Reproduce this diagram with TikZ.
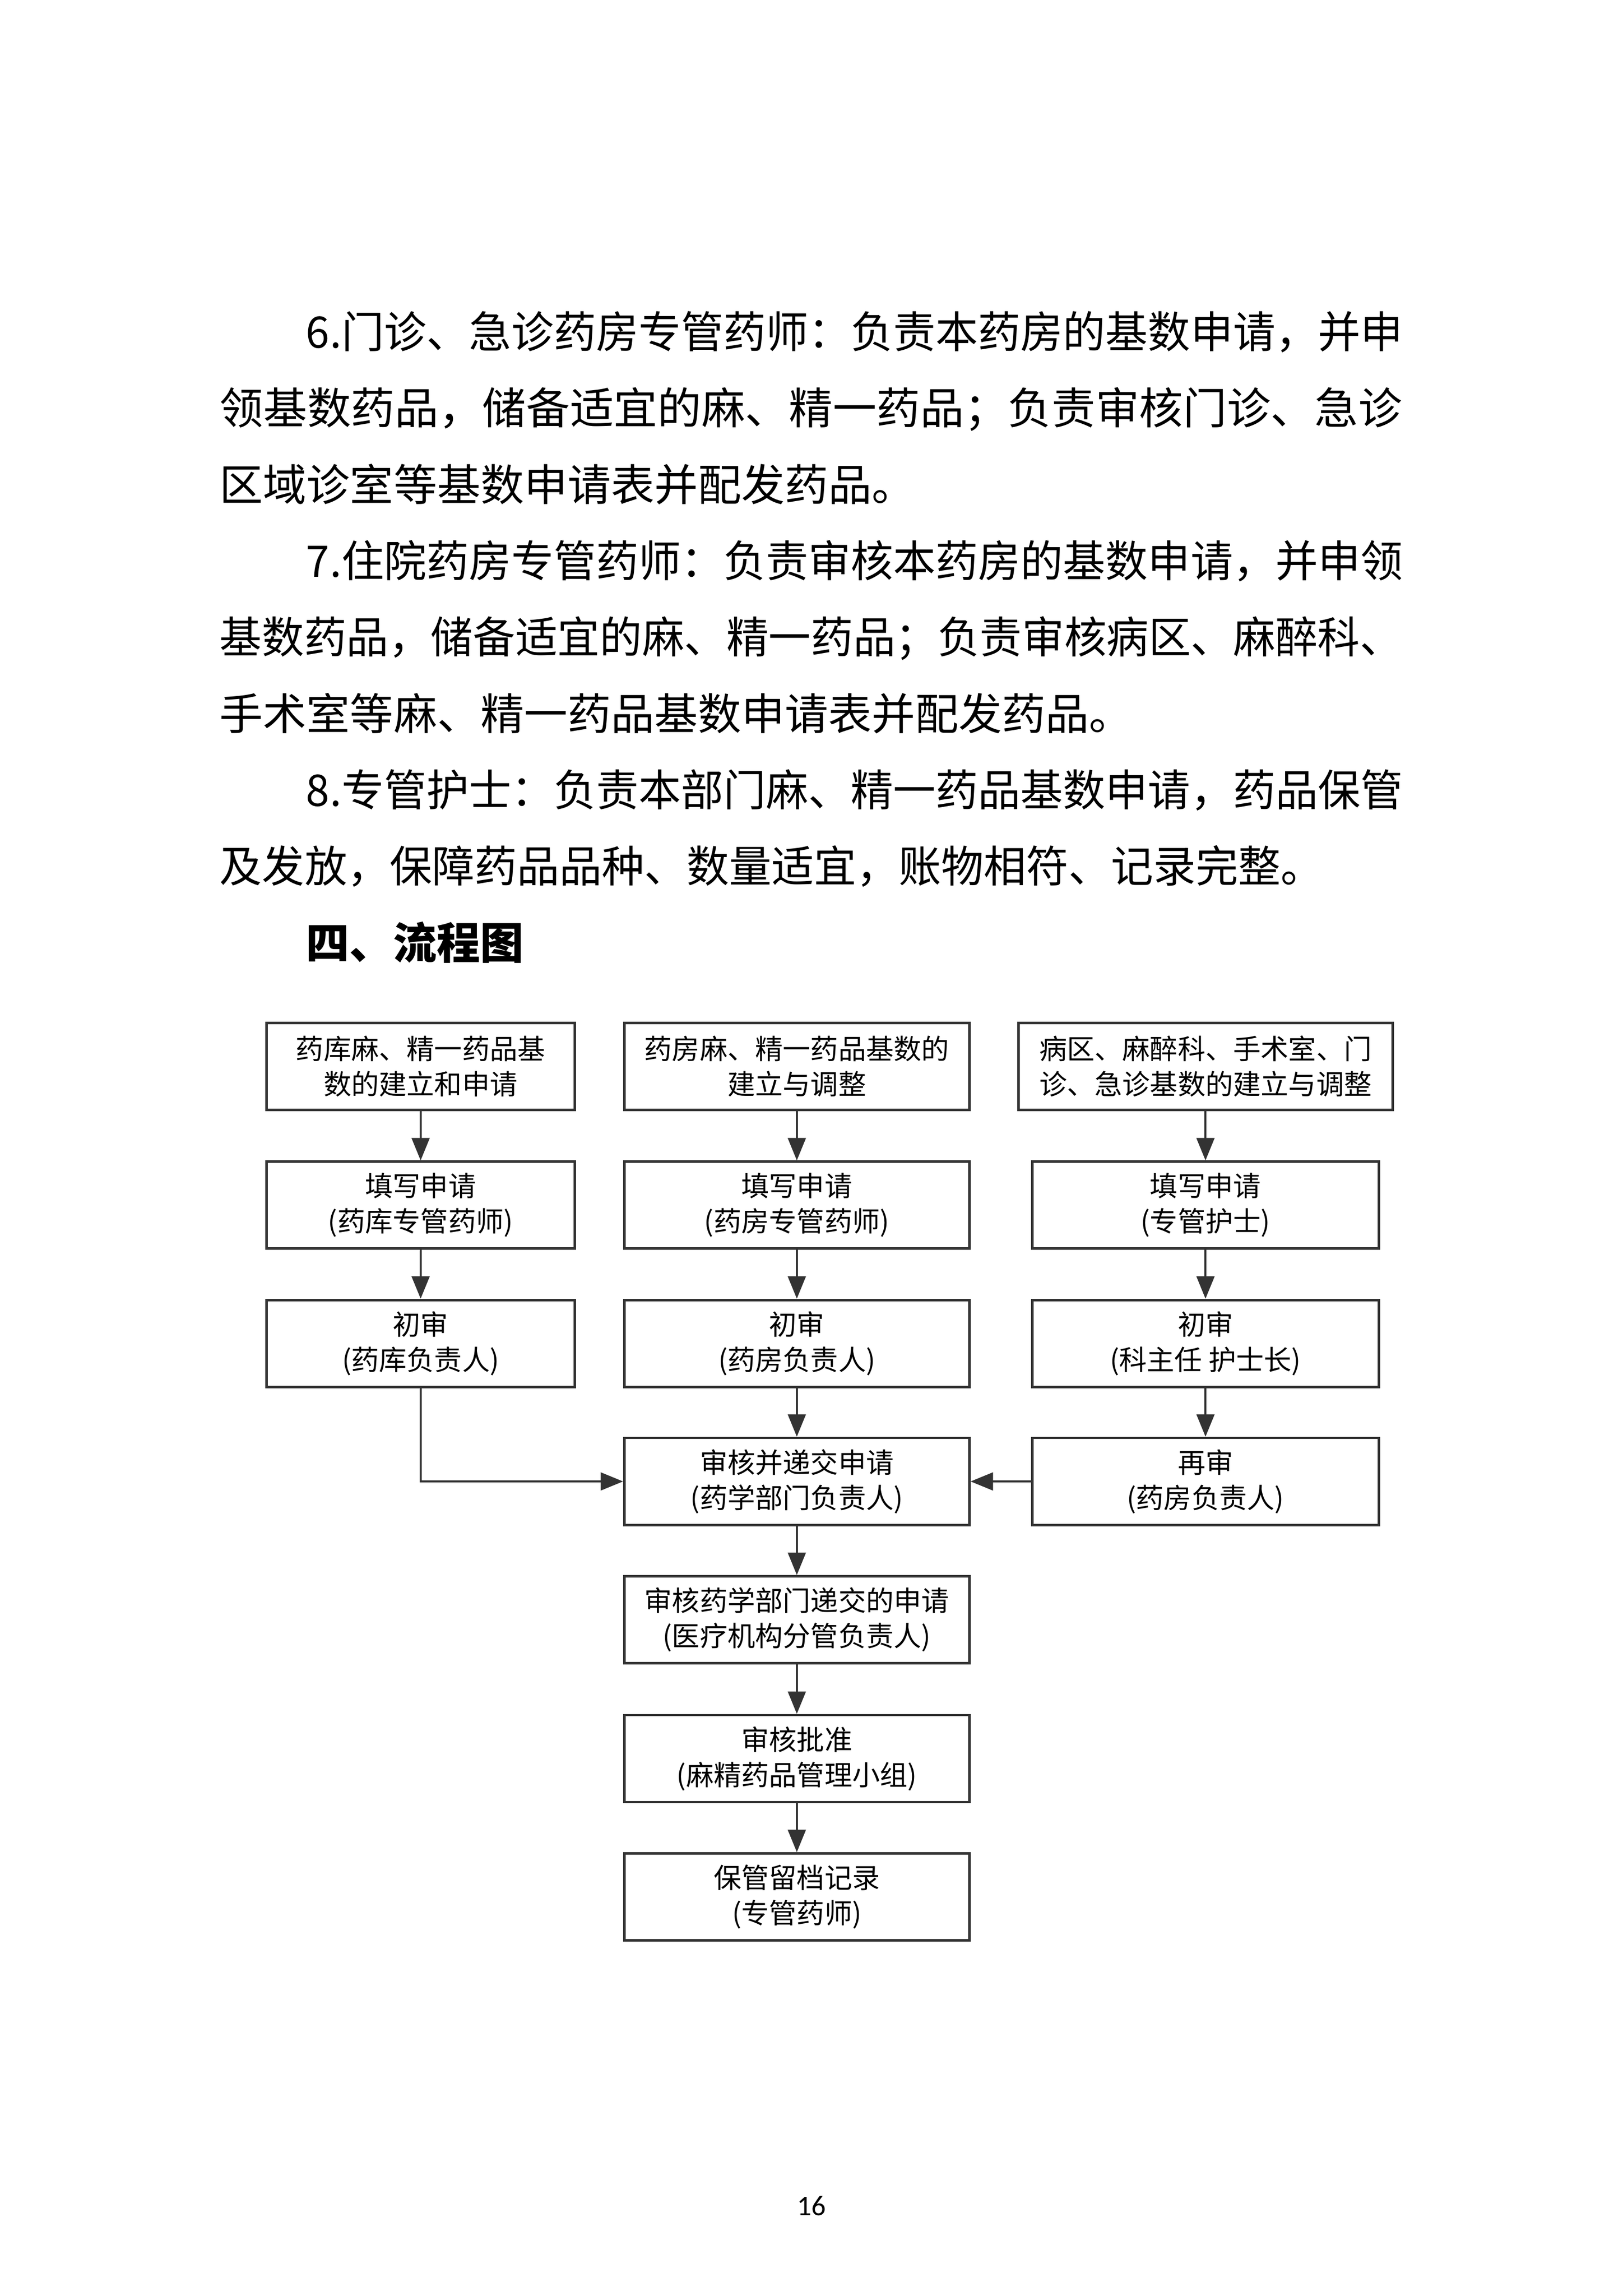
\documentclass[tikz,border=0pt]{standalone}
\usepackage{fontspec}
\usepackage{graphicx}
\setmainfont{Noto Sans CJK SC}
\newfontfamily\pagefont{Carlito}
\usetikzlibrary{arrows.meta}

\definecolor{boxgray}{HTML}{333333}

\tikzset{
	flow/.style = {draw = boxgray, line width = 0.9pt, align = center, minimum height = 1.125cm, inner sep = 2pt, font = \fontsize{10.2pt}{13pt}\selectfont},
	colL/.style = {flow, minimum width = 3.99cm},
	colM/.style = {flow, minimum width = 4.465cm},
	colR/.style = {flow, minimum width = 4.485cm},
	body/.style = {anchor = base west, inner sep = 0pt, font = \fontsize{16pt}{20pt}\selectfont},
}

\begin{document}
\begin{tikzpicture}
		\def\xL{5.443};
		\def\xM{10.311};
		\def\xR{15.599};
		\def\xa{2.837};
		\def\xb{3.955};
		
		\useasboundingbox (0,0) rectangle (21,-29.7);
		
		% text above the chart
		\node[body] (t1) at (\xb,-4.500) {\resizebox{14.19cm}{\height}{6.门诊、急诊药房专管药师：负责本药房的基数申请，并申}};
		\node[body] (t2) at (\xa,-5.488) {\resizebox{15.30cm}{\height}{领基数药品，储备适宜的麻、精一药品；负责审核门诊、急诊}};
		\node[body] (t3) at (\xa,-6.476) {区域诊室等基数申请表并配发药品。};
		\node[body] (t4) at (\xb,-7.464) {\resizebox{14.19cm}{\height}{7.住院药房专管药师：负责审核本药房的基数申请，并申领}};
		\node[body] (t5) at (\xa,-8.452) {\resizebox{15.30cm}{\height}{基数药品，储备适宜的麻、精一药品；负责审核病区、麻醉科、}};
		\node[body] (t6) at (\xa,-9.440) {手术室等麻、精一药品基数申请表并配发药品。};
		\node[body] (t7) at (\xb,-10.428) {\resizebox{14.19cm}{\height}{8.专管护士：负责本部门麻、精一药品基数申请，药品保管}};
		\node[body] (t8) at (\xa,-11.416) {\resizebox{14.28cm}{\height}{及发放，保障药品品种、数量适宜，账物相符、记录完整。}};
		\node[body] (head) at (\xb,-12.404) {\bfseries 四、流程图};
		
		% chart
		\node[colL] (l1) at (\xL,-13.793) {药库麻、精一药品基\\数的建立和申请};
		\node[colM] (m1) at (\xM,-13.793) {药房麻、精一药品基数的\\建立与调整};
		\node[flow, minimum width = 4.84cm] (r1) at (\xR,-13.793) {病区、麻醉科、手术室、门\\诊、急诊基数的建立与调整};
		
		\node[colL] (l2) at (\xL,-15.589) {填写申请\\(药库专管药师)};
		\node[colM] (m2) at (\xM,-15.589) {填写申请\\(药房专管药师)};
		\node[colR] (r2) at (\xR,-15.589) {填写申请\\(专管护士)};
		
		\node[colL] (l3) at (\xL,-17.378) {初审\\(药库负责人)};
		\node[colM] (m3) at (\xM,-17.378) {初审\\(药房负责人)};
		\node[colR] (r3) at (\xR,-17.378) {初审\\(科主任 护士长)};
		
		\node[colM] (m4) at (\xM,-19.163) {审核并递交申请\\(药学部门负责人)};
		\node[colR] (r4) at (\xR,-19.163) {再审\\(药房负责人)};
		
		\node[colM] (m5) at (\xM,-20.952) {审核药学部门递交的申请\\(医疗机构分管负责人)};
		\node[colM] (m6) at (\xM,-22.748) {审核批准\\(麻精药品管理小组)};
		\node[colM] (m7) at (\xM,-24.537) {保管留档记录\\(专管药师)};
		
		\begin{scope}[boxgray, line width = 0.75pt, -{Triangle[length=2.9mm, width=2.3mm]}]
			\draw (l1) -- (l2);
			\draw (l2) -- (l3);
			\draw (m1) -- (m2);
			\draw (m2) -- (m3);
			\draw (m3) -- (m4);
			\draw (r1) -- (r2);
			\draw (r2) -- (r3);
			\draw (r3) -- (r4);
			\draw (l3) |- (m4);
			\draw (r4) -- (m4);
			\draw (m4) -- (m5);
			\draw (m5) -- (m6);
			\draw (m6) -- (m7);
		\end{scope}
		
		\node[anchor = base, inner sep = 0pt, font = \pagefont\fontsize{10.5pt}{12pt}\selectfont] (pg) at (10.5,-28.657) {16};
	\end{tikzpicture}
\end{document}
